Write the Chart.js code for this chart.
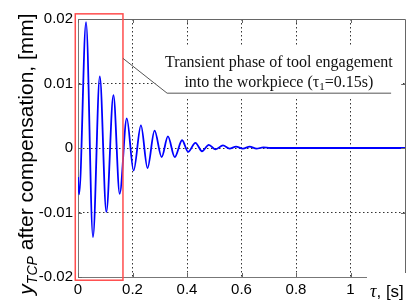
<!DOCTYPE html>
<html>
<head>
<meta charset="utf-8">
<script src="https://cdn.jsdelivr.net/npm/chart.js@4.4.1/dist/chart.umd.min.js"></script>
<style>
  html, body { margin: 0; padding: 0; background: #fff; }
  #wrap { width: 414px; height: 300px; position: relative; }
</style>
</head>
<body>
<div id="wrap"><canvas id="yChart"></canvas></div>
<script>
// time [s] and tool-tip deviation [mm] (peaks / troughs)
const timeS = [0, 0.004, 0.0295, 0.055, 0.080, 0.104, 0.130, 0.153, 0.179, 0.204,
  0.231, 0.255, 0.281, 0.307, 0.330, 0.355, 0.382, 0.404, 0.431, 0.455,
  0.480, 0.505, 0.532, 0.556, 0.580, 0.605, 0.630, 0.655, 0.680, 0.705,
  0.75, 0.85, 0.95, 1.05, 1.2];
const yTcp = [-0.0045, -0.0072, 0.0195, -0.0138, 0.0111, -0.0099, 0.0082, -0.0071, 0.0046, -0.0035,
  0.0035, -0.0031, 0.0027, -0.0014, 0.0018, -0.0014, 0.0012, -0.0006, 0.0008, -0.0005,
  0.0005, -0.0002, 0.0004, -0.0001, 0.0002, -0.0001, 0.0002, -0.0001, 0.0001, 0,
  0, 0, 0, 0, 0];

const xTicks = [0, 0.2, 0.4, 0.6, 0.8, 1];
const xTickLabels = ['0', '0.2', '0.4', '0.6', '0.8', '1'];
const yTicks = [-0.02, -0.01, 0, 0.01, 0.02];
const yTickLabels = ['-0.02', '-0.01', '0', '0.01', '0.02'];

// highlighted transient window (tau1 = 0.15 s)
const boxX = [-0.01, 0.165];
const boxY = [-0.0205, 0.0208];

const sans = '"Liberation Sans", Arial, sans-serif';
const serif = '"Liberation Serif", "Times New Roman", serif';

function drawRuns(ctx, runs, x, y, align) {
  let w = 0;
  runs.forEach(r => { ctx.font = r.font; w += ctx.measureText(r.t).width; });
  let cx = align === 'center' ? x - w / 2 : x;
  runs.forEach(r => {
    ctx.font = r.font;
    ctx.fillText(r.t, cx, y + (r.dy || 0));
    cx += ctx.measureText(r.t).width;
  });
}

const decorations = {
  id: 'decorations',
  afterDraw(chart) {
    const ctx = chart.ctx;
    const a = chart.chartArea;
    const xs = chart.scales.x, ys = chart.scales.y;
    ctx.save();

    // frame top / right and inside ticks
    ctx.strokeStyle = '#666';
    ctx.lineWidth = 1;
    ctx.beginPath();
    ctx.moveTo(a.left, a.top + 0.5);
    ctx.lineTo(a.right + 0.5, a.top + 0.5);
    ctx.lineTo(a.right + 0.5, a.bottom);
    yTicks.forEach(v => {
      const py = Math.round(ys.getPixelForValue(v)) + 0.5;
      ctx.moveTo(a.right, py); ctx.lineTo(a.right - 4, py);
      ctx.moveTo(a.left, py); ctx.lineTo(a.left + 4, py);
    });
    xTicks.forEach(v => {
      const px = Math.round(xs.getPixelForValue(v)) + 0.5;
      ctx.moveTo(px, a.top); ctx.lineTo(px, a.top + 4);
      ctx.moveTo(px, a.bottom); ctx.lineTo(px, a.bottom - 4);
    });
    ctx.stroke();

    // red rectangle around transient phase
    const rx0 = xs.getPixelForValue(boxX[0]), rx1 = xs.getPixelForValue(boxX[1]);
    const ry0 = ys.getPixelForValue(boxY[1]), ry1 = ys.getPixelForValue(boxY[0]);
    ctx.strokeStyle = '#ff4d4d';
    ctx.lineWidth = 1.5;
    ctx.strokeRect(rx0, ry0, rx1 - rx0, ry1 - ry0);

    // annotation box (white) + text + leader
    const bx0 = xs.getPixelForValue(0.284), bx1 = xs.getPixelForValue(1.186);
    const by0 = ys.getPixelForValue(0.0158), by1 = ys.getPixelForValue(0.0077);
    ctx.fillStyle = '#fff';
    ctx.fillRect(bx0, by0, bx1 - bx0, by1 - by0);

    ctx.strokeStyle = '#555';
    ctx.lineWidth = 1;
    ctx.beginPath();
    ctx.moveTo(rx1, ys.getPixelForValue(0.0139));
    ctx.lineTo(xs.getPixelForValue(0.327), ys.getPixelForValue(0.0085));
    ctx.lineTo(xs.getPixelForValue(1.149), ys.getPixelForValue(0.0085));
    ctx.stroke();

    ctx.fillStyle = '#111';
    ctx.textBaseline = 'alphabetic';
    ctx.textAlign = 'left';
    const tx = xs.getPixelForValue(0.737);
    drawRuns(ctx, [{ t: 'Transient phase of tool engagement', font: '16px ' + serif }],
      tx, ys.getPixelForValue(0.0133) + 5, 'center');
    drawRuns(ctx, [
      { t: 'into the workpiece (\u03c4', font: '16px ' + serif },
      { t: '1', font: '11px ' + serif, dy: 3 },
      { t: '=0.15s)', font: '16px ' + serif }
    ], tx, ys.getPixelForValue(0.0103) + 5, 'center');

    // x axis title with white patch
    ctx.fillStyle = '#fff';
    ctx.fillRect(367, a.bottom - 4, chart.width - 367, chart.height - a.bottom + 4);
    ctx.fillStyle = '#000';
    drawRuns(ctx, [
      { t: '\u03c4', font: 'italic 18px ' + serif },
      { t: ', [s]', font: '17px ' + sans }
    ], 370, 297, 'left');

    // y axis title
    ctx.translate(33, 154);
    ctx.rotate(-Math.PI / 2);
    drawRuns(ctx, [
      { t: 'y', font: 'italic 21px ' + sans },
      { t: 'TCP', font: 'italic 14px ' + sans, dy: 4 },
      { t: ' after compensation, [mm]', font: '21px ' + sans }
    ], 0, 0, 'center');
    ctx.restore();
  }
};

new Chart(document.getElementById('yChart'), {
  type: 'line',
  data: {
    datasets: [{
      data: timeS.map((t, i) => ({ x: t, y: yTcp[i] })),
      borderColor: '#0000ff',
      borderWidth: 1.8,
      pointRadius: 0,
      cubicInterpolationMode: 'monotone',
      fill: false
    }]
  },
  options: {
    responsive: true,
    maintainAspectRatio: false,
    animation: false,
    layout: { padding: { top: 19, right: 9, left: 0, bottom: 0 } },
    plugins: { legend: { display: false }, tooltip: { enabled: false } },
    scales: {
      x: {
        type: 'linear', min: 0, max: 1.2,
        afterBuildTicks: s => { s.ticks = xTicks.map(v => ({ value: v })); },
        afterFit: s => { s.height = 23; },
        ticks: {
          callback: (v, i) => xTickLabels[i],
          font: { family: sans, size: 15 }, color: '#000', padding: 4, maxRotation: 0
        },
        grid: { color: '#333', drawTicks: false, lineWidth: 1 },
        border: { color: '#777', dash: [1.5, 2.5] }
      },
      y: {
        min: -0.02, max: 0.02,
        afterBuildTicks: s => { s.ticks = yTicks.map(v => ({ value: v })); },
        afterFit: s => { s.width = 78; },
        ticks: {
          callback: (v, i) => yTickLabels[i],
          font: { family: sans, size: 15 }, color: '#000', padding: 5
        },
        grid: { color: '#333', drawTicks: false, lineWidth: 1 },
        border: { color: '#777', dash: [1.5, 2.5] }
      }
    }
  },
  plugins: [decorations]
});
</script>
</body>
</html>
